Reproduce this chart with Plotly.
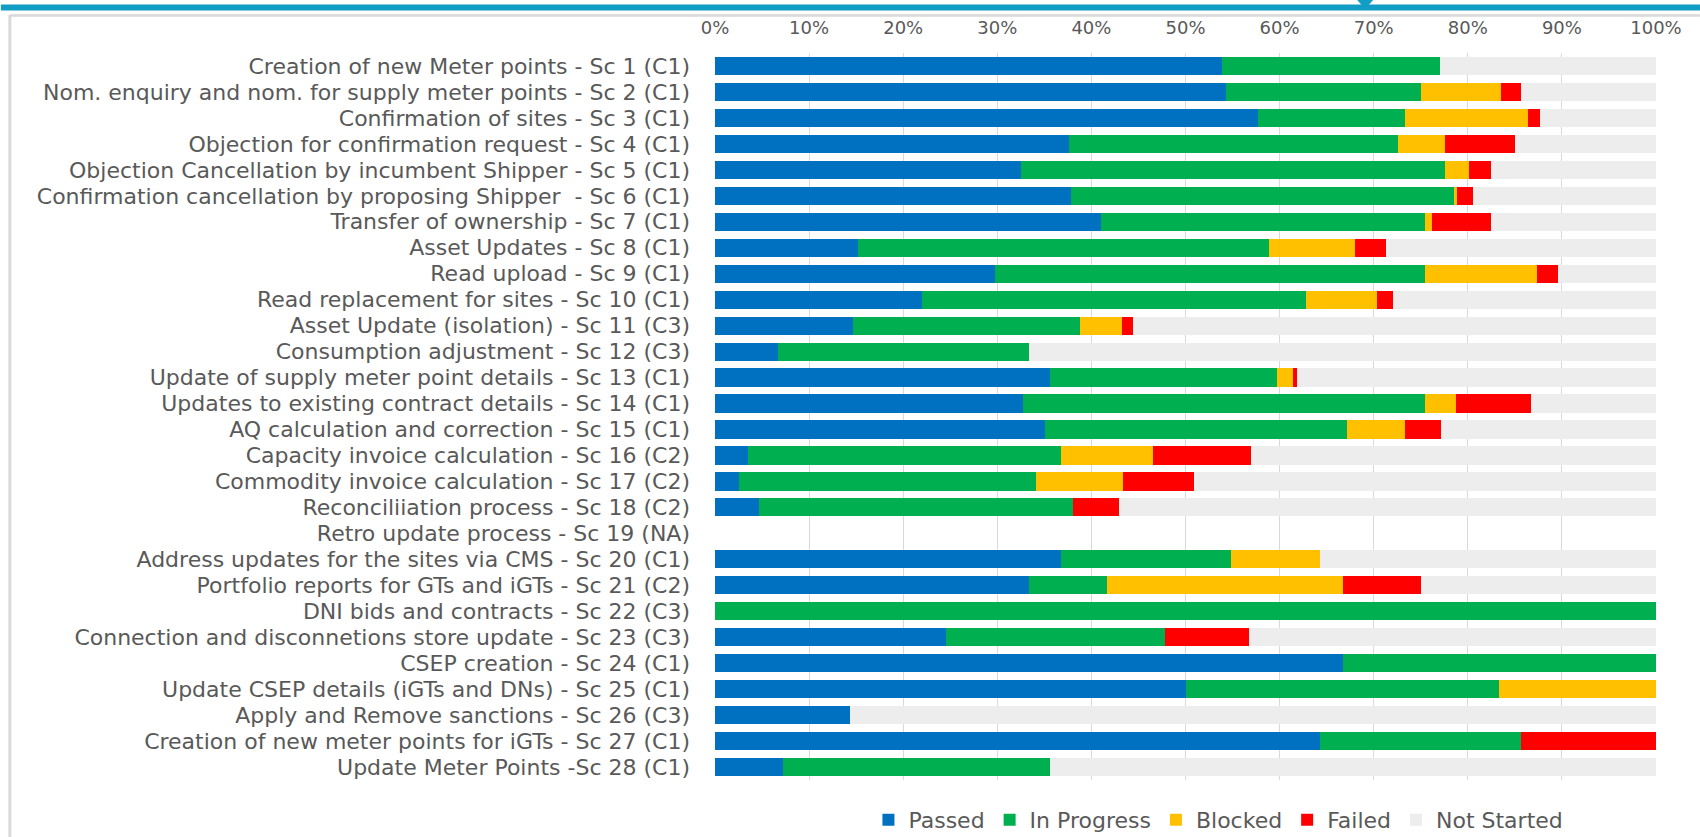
import plotly.graph_objects as go

categories = [
    "Creation of new Meter points - Sc 1 (C1)",
    "Nom. enquiry and nom. for supply meter points - Sc 2 (C1)",
    "Confirmation of sites - Sc 3 (C1)",
    "Objection for confirmation request - Sc 4 (C1)",
    "Objection Cancellation by incumbent Shipper - Sc 5 (C1)",
    "Confirmation cancellation by proposing Shipper  - Sc 6 (C1)",
    "Transfer of ownership - Sc 7 (C1)",
    "Asset Updates - Sc 8 (C1)",
    "Read upload - Sc 9 (C1)",
    "Read replacement for sites - Sc 10 (C1)",
    "Asset Update (isolation) - Sc 11 (C3)",
    "Consumption adjustment - Sc 12 (C3)",
    "Update of supply meter point details - Sc 13 (C1)",
    "Updates to existing contract details - Sc 14 (C1)",
    "AQ calculation and correction - Sc 15 (C1)",
    "Capacity invoice calculation - Sc 16 (C2)",
    "Commodity invoice calculation - Sc 17 (C2)",
    "Reconciliiation process - Sc 18 (C2)",
    "Retro update process - Sc 19 (NA)",
    "Address updates for the sites via CMS - Sc 20 (C1)",
    "Portfolio reports for GTs and iGTs - Sc 21 (C2)",
    "DNI bids and contracts - Sc 22 (C3)",
    "Connection and disconnetions store update - Sc 23 (C3)",
    "CSEP creation - Sc 24 (C1)",
    "Update CSEP details (iGTs and DNs) - Sc 25 (C1)",
    "Apply and Remove sanctions - Sc 26 (C3)",
    "Creation of new meter points for iGTs - Sc 27 (C1)",
    "Update Meter Points -Sc 28 (C1)",
]

passed = [53.9, 54.3, 57.7, 37.6, 32.5, 37.8, 41.0, 15.2, 29.8, 22.0, 14.7, 6.7, 35.6, 32.7,
          35.1, 3.5, 2.6, 4.7, 0, 36.8, 33.4, 0, 24.5, 66.7, 50.0, 14.3, 64.3, 7.2]
in_progress = [23.1, 20.7, 15.6, 35.0, 45.1, 40.7, 34.5, 43.7, 45.7, 40.8, 24.1, 26.7, 24.1, 42.8,
               32.1, 33.3, 31.5, 33.3, 0, 18.0, 8.3, 100.0, 23.3, 33.3, 33.3, 0, 21.4, 28.4]
blocked = [0, 8.5, 13.1, 5.0, 2.5, 0.4, 0.7, 9.1, 11.9, 7.6, 4.4, 0, 1.7, 3.2,
           6.1, 9.7, 9.3, 0, 0, 9.5, 25.0, 0, 0, 0, 16.7, 0, 0, 0]
failed = [0, 2.2, 1.3, 7.4, 2.4, 1.7, 6.3, 3.3, 2.2, 1.7, 1.2, 0, 0.5, 8.0,
          3.9, 10.5, 7.5, 4.9, 0, 0, 8.3, 0, 9.0, 0, 0, 0, 14.3, 0]
not_started = [23.0, 14.3, 12.3, 15.0, 17.5, 19.4, 17.5, 28.7, 10.4, 27.9, 55.6, 66.6, 38.1, 13.3,
               22.8, 43.0, 49.1, 57.1, 0, 35.7, 25.0, 0, 43.2, 0, 0, 85.7, 0, 64.4]

series = [
    ("Passed", passed, "#0070C0"),
    ("In Progress", in_progress, "#00B050"),
    ("Blocked", blocked, "#FFC000"),
    ("Failed", failed, "#FF0000"),
    ("Not Started", not_started, "#EDEDED"),
]

W, H = 1700, 837
L, R, T, B = 714.5, 1656.0, 53.0, 780.0


def px(x):
    return (x - L) / (R - L)


def py(y):
    return (B - y) / (B - T)


fig = go.Figure()
for name, vals, color in series:
    fig.add_trace(go.Bar(
        y=categories, x=vals, name=name, orientation="h",
        marker=dict(color=color, line=dict(width=0)),
    ))

font_family = "DejaVu Sans"
grey = "#595959"

fig.update_layout(
    width=W, height=H,
    barmode="stack",
    bargap=0.3,
    paper_bgcolor="white",
    plot_bgcolor="white",
    margin=dict(l=L, r=W - R, t=T, b=H - B, pad=0, autoexpand=False),
    font=dict(family=font_family, size=22, color=grey),
    xaxis=dict(
        side="top", range=[0, 100], dtick=10, ticksuffix="%",
        showgrid=True, gridcolor="#D9D9D9", gridwidth=1,
        zeroline=False, showline=False, ticks="",
        ticklabelstandoff=14,
        tickfont=dict(size=18, color=grey, family=font_family),
        fixedrange=True,
    ),
    yaxis=dict(
        autorange="reversed", showgrid=False, ticks="", showline=False,
        tickmode="array", tickvals=categories, ticktext=categories,
        ticklabelstandoff=24,
        tickfont=dict(size=22, color=grey, family=font_family),
        fixedrange=True,
    ),
    legend=dict(
        orientation="h", x=0.535, xanchor="center", y=py(820), yanchor="middle",
        traceorder="normal", font=dict(size=22, color=grey, family=font_family),
        itemwidth=30,
    ),
    shapes=[
        # frame of the slide
        dict(type="line", xref="paper", yref="paper", x0=px(9), x1=px(1700), y0=py(15.5), y1=py(15.5),
             line=dict(color="#D9D9D9", width=2.5)),
        dict(type="line", xref="paper", yref="paper", x0=px(9), x1=px(9), y0=py(15), y1=py(837),
             line=dict(color="#D9D9D9", width=3)),
        # teal header band
        dict(type="rect", xref="paper", yref="paper", x0=px(0), x1=px(1700), y0=py(10.5), y1=py(4.5),
             fillcolor="#129DC4", line=dict(width=0)),
        dict(type="path", xref="paper", yref="paper",
             path=f"M {px(1357)} {py(0)} L {px(1373)} {py(0)} L {px(1365)} {py(9)} Z",
             fillcolor="#129DC4", line=dict(width=0)),
    ],
)

fig.write_html(
    "out.html",
    config={"displayModeBar": False},
    post_script="document.body.style.margin='0';document.body.style.overflow='hidden';",
)
